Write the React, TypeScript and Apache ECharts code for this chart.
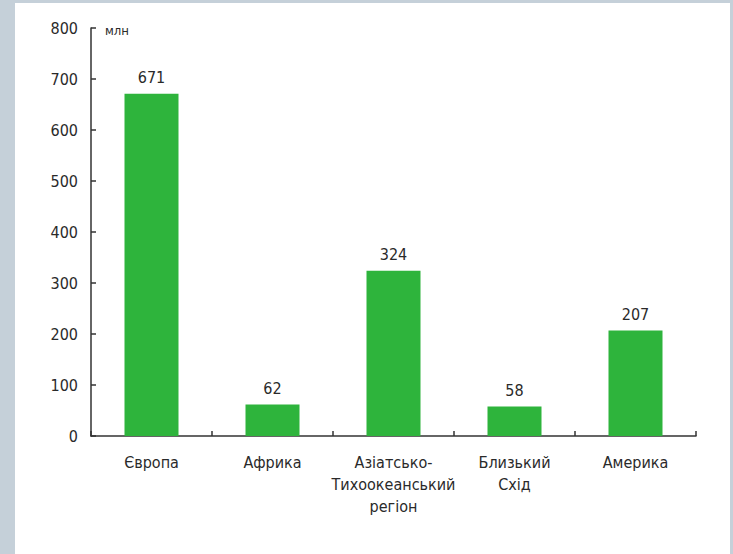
import React, { useEffect, useRef } from "react";
import * as echarts from "echarts";

const categories = [
  "Європа",
  "Африка",
  "Азіатсько-\nТихоокеанський\nрегіон",
  "Близький\nСхід",
  "Америка",
];
const values = [671, 62, 324, 58, 207];
const yUnit = "млн";
const yMin = 0;
const yMax = 800;
const yStep = 100;

const FONT = "'Liberation Sans Narrow', 'DejaVu Sans Condensed', sans-serif";
const TEXT = "#2a2a2a";

export default function App() {
  const ref = useRef<HTMLDivElement>(null);
  useEffect(() => {
    if (!ref.current) return;
    const chart = echarts.init(ref.current, null, { renderer: "svg" });
    chart.setOption({
      animation: false,
      backgroundColor: "#c5d0d9",
      graphic: [
        {
          type: "rect",
          left: 15,
          top: 3,
          shape: { width: 715, height: 551 },
          style: { fill: "#ffffff" },
          z: -10,
          silent: true,
        },
      ],
      grid: { left: 91, top: 28, width: 605, height: 408, containLabel: false },
      xAxis: {
        type: "category",
        data: categories,
        boundaryGap: true,
        axisLine: { lineStyle: { color: "#333", width: 1.5 } },
        axisTick: { show: true, inside: true, length: 5, alignWithLabel: false, lineStyle: { color: "#333", width: 1.5 } },
        axisLabel: {
          interval: 0,
          margin: 15,
          fontFamily: FONT,
          fontSize: 16,
          lineHeight: 22,
          color: TEXT,
        },
      },
      yAxis: {
        type: "value",
        min: yMin,
        max: yMax,
        interval: yStep,
        name: yUnit,
        nameLocation: "end",
        nameGap: -2,
        nameTextStyle: {
          align: "left",
          verticalAlign: "middle",
          padding: [0, 0, 0, 14],
          fontFamily: FONT,
          fontSize: 13,
          color: TEXT,
        },
        splitLine: { show: false },
        axisLine: { show: true, lineStyle: { color: "#333", width: 1.5 } },
        axisTick: { show: true, inside: true, length: 5, lineStyle: { color: "#333", width: 1.5 } },
        axisLabel: {
          margin: 13,
          fontFamily: FONT,
          fontSize: 16,
          color: TEXT,
        },
      },
      series: [
        {
          type: "bar",
          data: values,
          barWidth: 54,
          itemStyle: { color: "#2eb43c" },
          label: {
            show: true,
            position: "top",
            distance: 8,
            fontFamily: FONT,
            fontSize: 16,
            color: TEXT,
          },
        },
      ],
    });
    return () => chart.dispose();
  }, []);
  return (
    <div
      ref={ref}
      style={{ position: "absolute", left: 0, top: 0, width: 733, height: 554 }}
    />
  );
}
